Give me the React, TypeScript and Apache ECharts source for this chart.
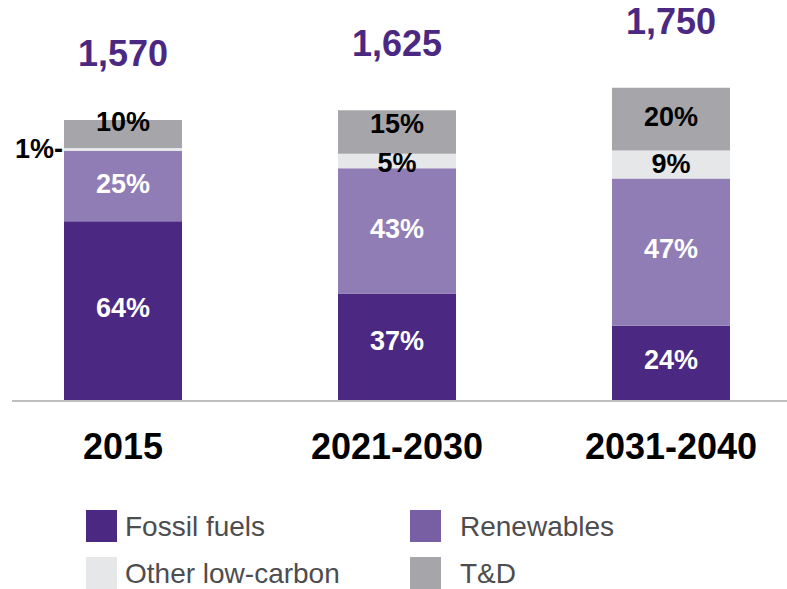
import React, { useEffect, useRef } from "react";
import * as echarts from "echarts";

const categories = ["2015", "2021-2030", "2031-2040"];
const totals = [1570, 1625, 1750];
const fossilPct = [64, 37, 24];
const renewPct = [25, 43, 47];
const otherPct = [1, 5, 9];
const tdPct = [10, 15, 20];

const FONT = "'Liberation Sans', Arial, Helvetica, sans-serif";
const PURPLE = "#4b2882";

export default function App() {
  const ref = useRef<HTMLDivElement>(null);
  useEffect(() => {
    document.body.style.margin = "0";
    const chart = echarts.init(ref.current!, null, { renderer: "svg" });
    const vals = (pct: number[]) => pct.map((p, i) => (totals[i] * p) / 100);
    const pctLabel = (pct: number[], color: string) => ({
      show: true,
      position: "inside",
      color,
      fontFamily: FONT,
      fontWeight: "bold",
      fontSize: 27,
      formatter: (p: any) => pct[p.dataIndex] + "%",
    });
    const mkData = (pct: number[], offsets: number[], special?: (i: number) => any) =>
      vals(pct).map((v, i) => {
        const item: any = { value: v, label: { offset: [0, offsets[i]] } };
        if (special) {
          const s = special(i);
          if (s) item.label = { ...item.label, ...s };
        }
        return item;
      });

    const legendBase = (name: string, left: number, top: number, padLeft: number, color?: string) => ({
      data: [color ? { name, itemStyle: { color } } : name],
      left,
      top,
      padding: 0,
      icon: "rect",
      itemWidth: 31,
      itemHeight: 32,
      selectedMode: false,
      textStyle: {
        fontFamily: FONT,
        fontSize: 28,
        color: "#4d4d4f",
        padding: [0, 0, 0, padLeft],
      },
    });

    chart.setOption({
      animation: false,
      grid: { left: 123, right: 116, top: 43, height: 358, containLabel: false },
      xAxis: {
        type: "category",
        data: categories,
        boundaryGap: false,
        axisLine: { show: false },
        axisTick: { show: false },
        axisLabel: {
          margin: 27,
          fontFamily: FONT,
          fontWeight: "bold",
          fontSize: 36,
          color: "#000",
        },
      },
      yAxis: {
        type: "value",
        min: 0,
        max: 2000,
        show: false,
        splitLine: { show: false },
      },
      legend: [
        legendBase("Fossil fuels", 86, 510, 3),
        legendBase("Other low-carbon", 86, 557, 3),
        legendBase("Renewables", 410, 510, 14, "#785ea3"),
        legendBase("T&D", 410, 557, 14),
      ],
      graphic: [
        {
          type: "line",
          shape: { x1: 12, y1: 401, x2: 787, y2: 401 },
          style: { stroke: "#bfbfbf", lineWidth: 2 },
          z: 10,
        },
      ],
      series: [
        {
          name: "Fossil fuels",
          type: "bar",
          stack: "s",
          barWidth: 118,
          itemStyle: { color: PURPLE },
          label: pctLabel(fossilPct, "#fff"),
          data: mkData(fossilPct, [-3, -6, -3]),
        },
        {
          name: "Renewables",
          type: "bar",
          stack: "s",
          barWidth: 118,
          itemStyle: { color: "#917db5" },
          label: pctLabel(renewPct, "#fff"),
          data: mkData(renewPct, [-2, -2, -3]),
        },
        {
          name: "Other low-carbon",
          type: "bar",
          stack: "s",
          barWidth: 118,
          itemStyle: { color: "#e6e7e8" },
          label: pctLabel(otherPct, "#000"),
          data: mkData(otherPct, [0, 2, 0], (i) =>
            i === 0
              ? { position: "left", distance: 1, offset: [0, 0], formatter: () => otherPct[0] + "%-" }
              : null
          ),
        },
        {
          name: "T&D",
          type: "bar",
          stack: "s",
          barWidth: 118,
          itemStyle: { color: "#a6a6aa" },
          label: pctLabel(tdPct, "#000"),
          data: mkData(tdPct, [-12, -8, -2]),
        },
        {
          name: "Total",
          type: "scatter",
          silent: true,
          symbolSize: 1,
          itemStyle: { color: "rgba(0,0,0,0)", opacity: 1 },
          label: {
            show: true,
            position: "top",
            distance: 48,
            color: PURPLE,
            fontFamily: FONT,
            fontWeight: "bold",
            fontSize: 36,
            formatter: (p: any) => totals[p.dataIndex].toLocaleString("en-US"),
          },
          data: totals,
          z: 5,
        },
      ],
    });
    return () => chart.dispose();
  }, []);
  return <div ref={ref} style={{ width: 787, height: 589 }} />;
}
